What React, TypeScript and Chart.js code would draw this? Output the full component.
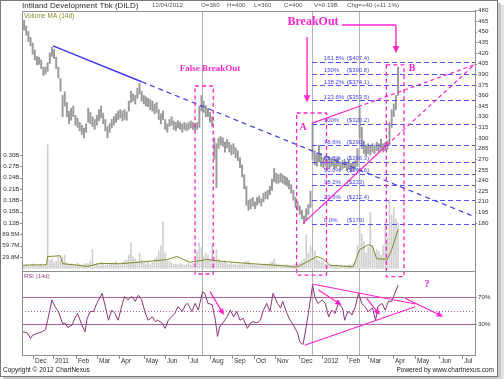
import React, { useEffect, useRef } from 'react';
import { Chart, registerables } from 'chart.js';

Chart.register(...registerables);

// ---------------- data ----------------
const titleText = 'Intiland Development Tbk (DILD)';
const quoteDate = '12/04/2012';
const quoteFields = ['O=360', 'H=400', 'L=360', 'C=400', 'V=0.19B', 'Chg=+40 (+11.1%)'];

// price bars sampled every 2 trading days (day index = i * sampleStepDays)
const sampleStepDays = 2;
const priceLow = [
  462, 452, 445, 436, 430, 418, 410, 403, 404, 398, 388, 390, 394, 405, 415, 412, 398, 385, 366, 330,
  345, 330, 320, 325, 330, 318, 315, 310, 305, 300, 308, 322, 320, 316, 312, 318, 324, 328, 320, 310,
  300, 308, 314, 318, 322, 326, 328, 324, 326, 325, 338, 350, 352, 348, 356, 362, 352, 348, 345, 344,
  340, 338, 334, 336, 326, 320, 326, 312, 308, 316, 318, 312, 310, 314, 312, 308, 312, 310, 312, 314,
  312, 310, 312, 315, 338, 336, 330, 330, 322, 316, 270, 230, 285, 290, 288, 280, 286, 280, 276, 278,
  272, 268, 258, 245, 228, 205, 198, 200, 204, 200, 205, 208, 204, 210, 214, 214, 220, 226, 238, 236,
  236, 238, 236, 234, 232, 228, 222, 212, 202, 198, 192, 186, 179, 184, 192, 202, 270, 262, 260, 266,
  260, 258, 260, 256, 258, 260, 256, 258, 260, 254, 256, 258, 254, 256, 252, 254, 256, 260, 300, 285,
  278, 275, 278, 276, 280, 278, 282, 280, 284, 280, 282, 284, 290, 315, 330, 340, 360,
];
const priceHigh = [
  472, 466, 458, 450, 442, 434, 424, 415, 414, 410, 400, 400, 406, 420, 428, 425, 414, 400, 384, 360,
  365, 350, 338, 342, 345, 332, 328, 322, 318, 314, 320, 342, 336, 330, 326, 332, 340, 345, 335, 326,
  316, 320, 326, 330, 334, 338, 340, 338, 340, 337, 352, 366, 362, 360, 370, 377, 366, 360, 358, 356,
  354, 352, 348, 350, 340, 334, 338, 326, 320, 326, 330, 324, 322, 324, 322, 320, 322, 320, 322, 324,
  322, 320, 322, 345, 360, 352, 346, 342, 336, 330, 300, 292, 300, 302, 300, 294, 298, 294, 290, 292,
  286, 282, 272, 262, 248, 232, 212, 214, 216, 210, 216, 218, 214, 222, 224, 226, 232, 242, 257, 250,
  248, 250, 248, 246, 244, 240, 234, 226, 216, 210, 204, 198, 190, 200, 206, 225, 320, 282, 278, 290,
  278, 272, 274, 270, 272, 272, 268, 270, 272, 266, 268, 270, 266, 270, 264, 266, 268, 285, 343, 315,
  295, 290, 292, 288, 292, 290, 294, 292, 298, 292, 294, 296, 322, 340, 348, 360, 400,
];
// volume in millions, same sampling as price bars
const volumeM = [
  8, 6, 10, 5, 7, 12, 9, 6, 8, 10, 7, 9,
  326,
  20, 25, 15, 18, 30, 22, 28, 35,
  14, 10, 12, 8, 9, 15, 11, 7, 10, 13,
  12, 18, 49, 10, 14, 9, 16, 12, 8, 11,
  9, 14, 10, 18, 12, 8, 15, 20, 22, 35,
  67, 30, 25, 18, 40, 22, 15, 12, 18, 10,
  14, 25, 30, 45, 60, 123, 40, 20, 18, 15,
  10, 12, 9, 14, 11, 8, 10, 13, 9, 12,
  20, 45, 67, 55, 30, 40, 35, 25, 60, 30,
  50, 25, 18, 15, 20, 12, 10, 14, 9, 11,
  8, 12, 10, 15, 20, 18, 12, 10, 8, 9,
  7, 10, 8, 12, 9, 14, 18, 25, 12, 10,
  8, 9, 7, 10, 8, 6, 9, 12, 10, 15,
  20, 25, 88, 40, 60, 30, 45, 25, 20, 15,
  18, 12, 10, 8, 9, 7, 10, 8, 9, 6,
  8, 7, 10, 9, 12, 20, 60, 120, 90, 70,
  40, 55, 147, 60, 40, 50, 45, 35, 60, 120,
  80, 180, 140, 160, 130, 120,
];
const volMaDays = [0, 10, 20, 23, 24, 36, 38, 50, 61, 73, 92, 113, 136, 145, 157, 173, 192, 216, 248, 257, 267, 276, 282, 288, 310, 316, 324, 328, 332, 342, 346, 352];
const volMaM = [8, 9, 9, 10, 31, 33, 12, 9, 5, 13, 12, 17, 23, 31, 16, 23, 17, 12, 6, 3, 17, 31, 25, 8, 4, 49, 62, 58, 25, 24, 49, 102];

const rsiDays = [
  1, 5, 8, 10, 15, 19, 22, 24, 28, 31, 34, 38, 40, 43, 47, 50, 52, 56, 59, 61,
  64, 67, 70, 75, 78, 81, 84, 87, 90, 94, 96, 99, 103, 106, 109, 112, 115, 118, 122, 125,
  127, 131, 134, 137, 140, 143, 146, 150, 153, 155, 159, 162, 165, 169, 171, 174, 178, 181, 183, 185,
  188, 192, 195, 198, 201, 204, 207, 211, 214, 216, 220, 223, 226, 229, 232, 235, 239, 242, 244, 248,
  251, 254, 258, 260, 263, 265, 268, 272, 274, 277, 281, 284, 287, 290, 293, 296, 300, 302, 305, 309,
  312, 315, 318, 321, 324, 328, 331, 333, 337, 340, 343, 346, 349, 352,
];
const rsiValues = [
  19, 17, 9, 14, 17, 19, 22, 36, 66, 56, 49, 31, 32, 25, 29, 41, 46, 29, 19, 39,
  49, 49, 61, 76, 56, 36, 51, 46, 36, 61, 71, 66, 71, 64, 73, 66, 49, 36, 41, 34,
  36, 32, 24, 36, 41, 46, 56, 49, 59, 61, 49, 61, 51, 78, 76, 61, 59, 36, 12, 26,
  32, 41, 51, 41, 49, 36, 39, 24, 32, 34, 32, 36, 51, 61, 49, 76, 61, 54, 64, 46,
  36, 29, 17, 4, 0, 17, 46, 88, 71, 61, 66, 61, 41, 51, 46, 61, 54, 36, 49, 44,
  56, 76, 61, 56, 49, 54, 36, 56, 61, 51, 64, 64, 76, 88,
];

const monthStartDays = [10, 29, 51, 70, 91, 114, 134, 155, 176, 197, 217, 237, 259, 281, 304, 324, 347, 368, 390, 412];
const monthLabels = ['Dec', '2011', 'Feb', 'Mar', 'Apr', 'May', 'Jun', 'Jul', 'Aug', 'Sep', 'Oct', 'Nov', 'Dec', '2012', 'Feb', 'Mar', 'Apr', 'May', 'Jun', 'Jul'];
const priceTicks = [480, 465, 450, 435, 420, 405, 390, 375, 360, 345, 330, 315, 300, 285, 270, 255, 240, 225, 210, 195, 180];
const volumeTickValues = [298.3, 268.47, 238.64, 208.81, 178.98, 149.15, 119.32, 89.49, 59.66, 29.83];
const volumeTickLabels = ['0.30B', '0.27B', '0.24B', '0.21B', '0.18B', '0.15B', '0.12B', '89.5M', '59.7M', '29.8M'];
const rsiBands = [70, 30];
const rsiBandLabels = ['70%', '30%'];
const rsiMid = 50;

const fibPercents = ['161.8%', '150%', '138.2%', '123.6%', '100%', '78.6%', '61.8%', '50.0%', '38.2%', '23.6%', '0.0%'];
const fibPrices = [407.4, 390.8, 374.1, 353.5, 320.2, 290, 266.3, 249.6, 233, 212.4, 179];
const markerDays = [168.5, 271.5, 315.5];

// ---------------- styling ----------------
const SANS = 'Arial, "Liberation Sans", sans-serif';
const SERIF = '"Times New Roman", "Liberation Serif", serif';
const MAGENTA = '#ff24cc';
const BLUE = '#4646ee';
const FRAME = '#8f8f8f';
const MAUVE = '#b0609c';

function seg(ctx: CanvasRenderingContext2D, x1: number, y1: number, x2: number, y2: number) {
  ctx.beginPath();
  ctx.moveTo(x1, y1);
  ctx.lineTo(x2, y2);
  ctx.stroke();
}

function head(ctx: CanvasRenderingContext2D, x1: number, y1: number, x2: number, y2: number, size: number) {
  const ang = Math.atan2(y2 - y1, x2 - x1);
  ctx.beginPath();
  ctx.moveTo(x2, y2);
  ctx.lineTo(x2 - size * Math.cos(ang - 0.42), y2 - size * Math.sin(ang - 0.42));
  ctx.lineTo(x2 - size * Math.cos(ang + 0.42), y2 - size * Math.sin(ang + 0.42));
  ctx.closePath();
  ctx.fill();
}

const PANEL_SPLIT_Y = 271;

const overlayPlugin = {
  id: 'dildOverlay',
  beforeDraw(chart: any) {
    const ctx = chart.ctx;
    ctx.save();
    ctx.fillStyle = '#ffffff';
    ctx.fillRect(0, 0, chart.width, chart.height);
    ctx.restore();
  },
  beforeDatasetsDraw(chart: any) {
    const { ctx, chartArea: a, scales } = chart;
    const X = (v: number) => scales.x.getPixelForValue(v);
    const YR = (v: number) => scales.yRsi.getPixelForValue(v);
    ctx.save();
    ctx.lineWidth = 1;
    ctx.strokeStyle = '#b4b4b4';
    markerDays.forEach((d) => {
      const x = Math.round(X(d)) + 0.5;
      seg(ctx, x, a.top, x, a.bottom);
    });
    ctx.strokeStyle = MAUVE;
    rsiBands.forEach((v) => {
      const y = Math.round(YR(v)) + 0.5;
      seg(ctx, a.left, y, a.right, y);
    });
    ctx.setLineDash([1, 2]);
    const ym = Math.round(YR(rsiMid)) + 0.5;
    seg(ctx, a.left, ym, a.right, ym);
    ctx.restore();
  },
  afterDatasetsDraw(chart: any) {
    const { ctx, chartArea: a, scales } = chart;
    const X = (v: number) => scales.x.getPixelForValue(v);
    const YP = (v: number) => scales.yPrice.getPixelForValue(v);
    const YR = (v: number) => scales.yRsi.getPixelForValue(v);
    ctx.save();

    // Fibonacci levels
    ctx.strokeStyle = '#5252f2';
    ctx.lineWidth = 1.2;
    ctx.setLineDash([5, 3]);
    fibPrices.forEach((p) => {
      const y = Math.round(YP(p)) + 0.5;
      seg(ctx, X(271.4), y, a.right, y);
    });
    ctx.setLineDash([]);
    ctx.fillStyle = BLUE;
    ctx.font = `6px ${SANS}`;
    ctx.textBaseline = 'alphabetic';
    ctx.textAlign = 'left';
    fibPercents.forEach((t, i) => {
      const y = YP(fibPrices[i]) - 1.5;
      ctx.fillText(t, X(282.5), y);
      ctx.fillText(`($${fibPrices[i]})`, X(304), y);
    });

    // blue down trend line
    ctx.strokeStyle = '#3b3bf0';
    ctx.lineWidth = 1.5;
    seg(ctx, X(29), YP(430), X(112), YP(379.3));
    ctx.lineWidth = 1.2;
    ctx.setLineDash([5, 4]);
    seg(ctx, X(112), YP(379.3), X(424), YP(188.6));

    // magenta trend lines in price panel
    ctx.strokeStyle = MAGENTA;
    ctx.lineWidth = 1.2;
    ctx.setLineDash([]);
    seg(ctx, X(271.2), YP(320.5), X(314.5), YP(344));
    seg(ctx, X(263), YP(179.5), X(341.6), YP(290));
    ctx.setLineDash([4, 3]);
    seg(ctx, X(314.5), YP(344), X(424), YP(403.5));
    seg(ctx, X(341.6), YP(290), X(424), YP(404));

    // dashed boxes
    ctx.lineWidth = 1.3;
    ctx.setLineDash([4, 3]);
    const boxes = [
      [162, 179, 373.3, 108],
      [257, 285, 335.2, 106.5],
      [341, 357.5, 403, 104.2],
    ];
    boxes.forEach(([d1, d2, pTop, pBot]) => {
      const x1 = X(d1), x2 = X(d2), y1 = YP(pTop), y2 = YP(pBot);
      ctx.strokeRect(x1, y1, x2 - x1, y2 - y1);
    });
    ctx.setLineDash([]);

    // breakout arrows
    ctx.fillStyle = MAGENTA;
    ctx.lineWidth = 1.4;
    seg(ctx, X(299.5), YP(459.4), X(350), YP(459.4));
    seg(ctx, X(350), YP(459.4), X(350), YP(426));
    head(ctx, X(350), YP(440), X(350), YP(419.5), 8);
    seg(ctx, X(266.8), YP(442.5), X(266.8), YP(357));
    head(ctx, X(266.8), YP(370), X(266.8), YP(350), 8);

    // texts
    ctx.textAlign = 'center';
    ctx.textBaseline = 'middle';
    ctx.font = `bold 9px ${SERIF}`;
    ctx.fillText('False BreakOut', X(176), YP(397.3));
    ctx.font = `bold 12px ${SERIF}`;
    ctx.fillText('BreakOut', X(272.4), YP(464));
    ctx.font = `bold 10px ${SERIF}`;
    ctx.fillText('A', X(263), YP(315.5));
    ctx.fillText('B', X(365), YP(398.7));
    ctx.font = `bold 11px ${SERIF}`;
    ctx.fillText('?', X(379), YR(89.7));

    // RSI triangle
    ctx.lineWidth = 1.2;
    seg(ctx, X(271.7), YR(89.7), X(368), YR(60));
    seg(ctx, X(264.6), YR(-1), X(368), YR(56));
    // RSI arrows
    const rsiArrows = [
      [176, 78.3, 189, 43.8],
      [277.3, 80.8, 299.2, 58.6],
      [322.6, 68.5, 335, 43.8],
      [358.5, 68.5, 394.3, 41.3],
    ];
    rsiArrows.forEach(([d1, r1, d2, r2]) => {
      const x1 = X(d1), y1 = YR(r1), x2 = X(d2), y2 = YR(r2);
      const ang = Math.atan2(y2 - y1, x2 - x1);
      seg(ctx, x1, y1, x2 - 5 * Math.cos(ang), y2 - 5 * Math.sin(ang));
      head(ctx, x1, y1, x2, y2, 7);
    });

    // panel frames
    ctx.strokeStyle = FRAME;
    ctx.lineWidth = 1;
    ctx.strokeRect(Math.round(a.left) + 0.5, Math.round(a.top) + 0.5, Math.round(a.right - a.left), PANEL_SPLIT_Y - Math.round(a.top));
    ctx.strokeRect(Math.round(a.left) + 0.5, PANEL_SPLIT_Y + 0.5, Math.round(a.right - a.left), Math.round(a.bottom) - PANEL_SPLIT_Y);
    ctx.restore();
  },
  afterDraw(chart: any) {
    const { ctx, chartArea: a, scales } = chart;
    const X = (v: number) => scales.x.getPixelForValue(v);
    const YP = (v: number) => scales.yPrice.getPixelForValue(v);
    const YV = (v: number) => scales.yVol.getPixelForValue(v);
    const YR = (v: number) => scales.yRsi.getPixelForValue(v);
    ctx.save();
    ctx.textBaseline = 'middle';
    ctx.fillStyle = '#333';
    ctx.strokeStyle = FRAME;
    ctx.lineWidth = 1;

    // right price axis
    ctx.font = `6.2px ${SANS}`;
    ctx.textAlign = 'left';
    priceTicks.forEach((p) => {
      const y = Math.round(YP(p)) + 0.5;
      seg(ctx, a.right, y, a.right + 2, y);
      ctx.fillText(String(p), a.right + 3, YP(p));
    });
    rsiBands.forEach((v, i) => {
      const y = Math.round(YR(v)) + 0.5;
      seg(ctx, a.right, y, a.right + 2, y);
      ctx.fillText(rsiBandLabels[i], a.right + 3, YR(v));
    });

    // left volume axis
    ctx.textAlign = 'right';
    volumeTickValues.forEach((v, i) => {
      const y = Math.round(YV(v)) + 0.5;
      seg(ctx, a.left - 2, y, a.left, y);
      ctx.fillText(volumeTickLabels[i], a.left - 2.5, YV(v));
    });

    // x axis months
    ctx.textAlign = 'left';
    ctx.font = `6.5px ${SANS}`;
    monthStartDays.forEach((d, i) => {
      const x = Math.round(X(d)) + 0.5;
      seg(ctx, x, a.bottom, x, a.bottom + 4);
      ctx.fillText(monthLabels[i], x + 1.5, a.bottom + 6.5);
    });

    // panel captions
    ctx.font = `6.5px ${SANS}`;
    ctx.fillStyle = '#8a8a2a';
    ctx.fillText('Volume MA (14d)', a.left + 2, a.top + 5);
    ctx.fillStyle = '#a0448a';
    ctx.font = `6px ${SANS}`;
    ctx.fillText('RSI (14d)', a.left + 2, PANEL_SPLIT_Y + 5);

    // header
    ctx.fillStyle = '#2a2a2a';
    ctx.font = `8px ${SANS}`;
    ctx.fillText(titleText, 22, 5.5);
    ctx.fillStyle = '#555';
    ctx.font = `6.2px ${SANS}`;
    ctx.fillText(quoteDate, 152, 5.5);
    const qx = [201, 227, 254, 284, 314, 347];
    quoteFields.forEach((t, i) => ctx.fillText(t, qx[i], 5.5));

    // footer
    ctx.fillStyle = '#222';
    ctx.font = `6.5px ${SANS}`;
    ctx.fillText('Copyright \u00a9 2012 ChartNexus', 3, 370.5);
    ctx.textAlign = 'right';
    ctx.fillText('Powered by www.chartnexus.com', 494, 370.5);

    // outer frame and shadow
    ctx.strokeStyle = '#7a7a7a';
    ctx.strokeRect(0.5, 0.5, 497, 376);
    ctx.fillStyle = '#c8c8c8';
    ctx.fillRect(498, 3, 3, 376);
    ctx.fillRect(3, 377, 498, 2);
    ctx.fillStyle = '#e4e4e4';
    ctx.fillRect(501, 5, 3, 374);
    ctx.restore();
  },
};

export default function App() {
  const ref = useRef<HTMLCanvasElement>(null);
  useEffect(() => {
    const canvas = ref.current;
    if (!canvas) return;
    const chart = new Chart(canvas, {
      type: 'bar',
      data: {
        datasets: [
          {
            type: 'line',
            label: 'RSI (14d)',
            data: rsiDays.map((d, i) => ({ x: d, y: rsiValues[i] })),
            yAxisID: 'yRsi',
            borderColor: '#8c3479',
            borderWidth: 1,
            pointRadius: 0,
            tension: 0,
            order: 1,
          } as any,
          {
            type: 'bar',
            label: 'Price',
            data: priceLow.map((l, i) => ({ x: i * sampleStepDays, y: [l, priceHigh[i]] })),
            yAxisID: 'yPrice',
            backgroundColor: '#9a9a9a',
            barThickness: 1.3,
            grouped: false,
            order: 2,
          } as any,
          {
            type: 'line',
            label: 'Volume MA (14d)',
            data: volMaDays.map((d, i) => ({ x: d, y: volMaM[i] })),
            yAxisID: 'yVol',
            borderColor: '#86862a',
            borderWidth: 1,
            pointRadius: 0,
            tension: 0,
            order: 3,
          } as any,
          {
            type: 'bar',
            label: 'Volume',
            data: volumeM.map((v, i) => ({ x: i * sampleStepDays, y: v })),
            yAxisID: 'yVol',
            backgroundColor: '#d0d0d0',
            barThickness: 1,
            grouped: false,
            order: 4,
          } as any,
        ],
      },
      options: {
        responsive: false,
        animation: false,
        devicePixelRatio: 1,
        events: [],
        layout: { padding: { left: 22, right: 29, top: 11, bottom: 24 } },
        plugins: { legend: { display: false }, tooltip: { enabled: false } },
        scales: {
          x: { type: 'linear', min: 0, max: 424, offset: false, display: false },
          y: { display: false },
          yPrice: { type: 'linear', min: -6.3, max: 479.15, display: false },
          yVol: { type: 'linear', min: -228.2, max: 677.3, display: false },
          yRsi: { type: 'linear', min: -15.5, max: 494.1, display: false },
        },
      } as any,
      plugins: [overlayPlugin as any],
    });
    return () => chart.destroy();
  }, []);
  return (
    <div style={{ position: 'fixed', left: 0, top: 0, width: 504, height: 379, background: '#fff' }}>
      <canvas ref={ref} width={504} height={379} style={{ display: 'block', width: 504, height: 379 }} />
    </div>
  );
}
